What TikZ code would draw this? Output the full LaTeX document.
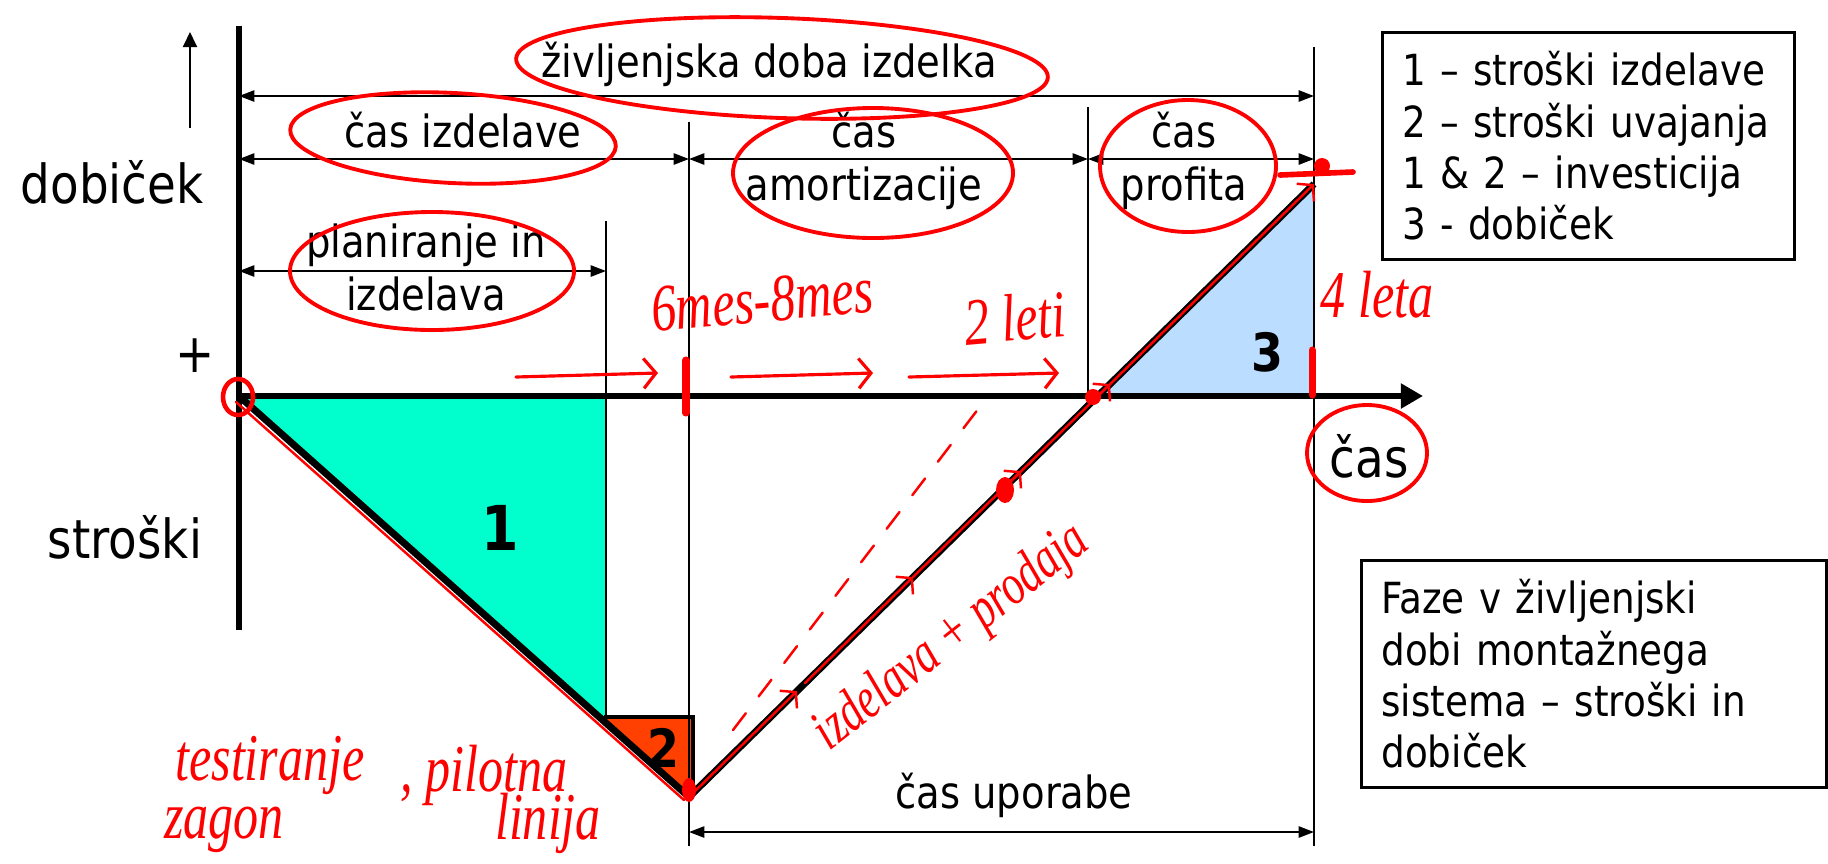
\documentclass[tikz,border=0pt]{standalone}
\usepackage{fontspec}
\setmainfont{DejaVu Sans}[FakeStretch=0.87]
\newfontfamily\handfont{Liberation Serif}[FakeStretch=0.75]
\usetikzlibrary{arrows.meta}
\definecolor{tone}{RGB}{0,255,204}
\definecolor{ttwo}{RGB}{255,64,0}
\definecolor{tthree}{RGB}{187,221,255}

\begin{document}
\begin{tikzpicture}[x=.01cm,y=-.01cm,
  ax/.style={line width=1.8pt},
  hair/.style={line width=.6pt},
  dim/.style={hair,{Triangle[length=4.4pt,width=3.2pt]}-{Triangle[length=4.4pt,width=3.2pt]}},
  lbl/.style={font=\fontsize{12.6}{14.8}\selectfont,align=center,anchor=base,inner sep=0},
  big/.style={font=\fontsize{15.3}{18}\selectfont,inner sep=0},
  num/.style={font=\bfseries\fontsize{15}{15}\selectfont,inner sep=0},
  box/.style={draw,line width=.8pt,anchor=north west,align=left,minimum height=22.7mm,font=\fontsize{12.2}{14.6}\selectfont},
  redln/.style={red,line width=.9pt,line cap=round},
  hand/.style={red,inner sep=0,font=\handfont\itshape\fontsize{19}{20}\selectfont}]
\useasboundingbox (0,0) rectangle (1828,863);
% key points of the curve
\coordinate (O) at (239,396);\coordinate (P) at (606,396);\coordinate (I) at (689,396);
\coordinate (A) at (1088,396);\coordinate (E) at (1314,396);\coordinate (C) at (1096,396);
\coordinate (K) at (606,722);\coordinate (V) at (689,797);\coordinate (T) at (1314,184);
\coordinate (X) at (1423,396);
% areas
\fill[tone] (O)--(P)--(K)--cycle;
\fill[ttwo] (606,717)--(693,717)--(693,797)--(V)--(K)--cycle;
\fill[tthree] (C)--(E)--(T)--cycle;
\draw[line width=1.4pt] (604,717)--(693,717)--(693,793);
% guides and spans
\foreach \x/\t/\b in {606/221/717,689/122/846,1088/107/396,1314/47/846}
  \draw[hair] (\x,\t)--(\x,\b);
\foreach \a/\b/\y in {O/E/96,O/I/159,I/A/159,A/E/159,O/P/271,I/E/832}
  \draw[dim] (\a |- 0,\y)--(\b |- 0,\y);
% axes and curve
\draw[ax] (239,26)--(239,630);
\draw[ax,-{Triangle[length=6.3pt,width=6.8pt]}] (O)--(X);
\draw[hair,-{Triangle[length=4.3pt,width=4pt]}] (190,128)--(190,32);
\draw[line width=2pt] (O)--(V)--(T);
% texts
\node[big,anchor=base] (dob) at (112,203) {dobiček};
\node[big,anchor=base] (str) at (125,558) {stroški};
\node[big] (plus) at (195,356) {+};
\node[big,anchor=base] (cas) at (1369,477) {čas};
\node[lbl] (life) at (769,77) {življenjska doba izdelka};
\node[lbl] (izd) at (463,147) {čas izdelave};
\node[lbl] (amo) at (864,200) {čas\\amortizacije};
\node[lbl] (pro) at (1184,200) {čas\\profita};
\node[lbl] (pla) at (426,310) {planiranje in\\izdelava};
\node[lbl] (upo) at (1014,808) {čas uporabe};
\node[num,font=\bfseries\fontsize{17.6}{18}\selectfont] (n1) at (500,528) {1};
\node[num] (n2) at (663,748) {2};
\node[num] (n3) at (1267,352) {3};
\node[box,text width=37.2mm,inner xsep=2mm] (leg) at (1381,31)
  {1 – stroški izdelave\\2 – stroški uvajanja\\1 \& 2 – investicija\\3 - dobiček};
\node[box,text width=42.5mm,inner xsep=2mm] (cap) at (1360,559)
  {Faze v življenjski\\dobi montažnega\\sistema – stroški in\\dobiček};
% red pen marks
\foreach \x/\y/\rx/\ry/\r in {782/68/266/50/-2,453/138/163/45/-3,432/271/142/59/0,
  873/173/140/65/0,1188/166/88/66/0,1367/453/60/48/0}
  \draw[redln,line width=1.1pt,rotate around={\r:(\x,\y)}] (\x,\y) ellipse [x radius=\rx,y radius=\ry];
\draw[redln,line width=1.3pt] (238,397) ellipse [x radius=15,y radius=18];
\fill[red] (1093,397) circle (8);\fill[red] (1005,490) ellipse [x radius=9,y radius=13];
\fill[red] (689,790) ellipse [x radius=7,y radius=12];\fill[red] (1322,166) circle (8);
\draw[redln,line width=1.6pt] (1280,175)--(1353,172);
\draw[redln,line width=2pt] (686,360)--(686,413);\draw[redln,line width=2pt] (1312,350)--(1312,395);
\foreach \a/\b in {516/658,731/873,909/1059}
  \draw[redln,-{Straight Barb[length=3.5pt,width=8.5pt]}] (\a,377)--(\b,373);
\draw[redln,line width=.7pt,dash pattern=on 6pt off 6pt] (733,730)--(985,400);
\draw[redln,line width=.7pt] (236,402)--(684,800);
\foreach \a/\b in {689/797,805/683,913/577,1002/490}
  \draw[redln,line width=.7pt,-{Straight Barb[length=3pt,width=7pt]}] (\a,\b)--++(108,-106);
\draw[redln,line width=.7pt,-{Straight Barb[length=3pt,width=7pt]}] (1097,397)--(T);
\node[hand,rotate=5] (h1) at (762,300) {6mes-8mes};
\node[hand,rotate=5] (h2) at (1015,318) {2 leti};
\node[hand] (h3) at (1377,295) {4 leta};
\node[hand,rotate=38,font=\handfont\itshape\fontsize{16.5}{18}\selectfont] (h4) at (952,638) {izdelava + prodaja};
\node[hand] (h5) at (270,765) {testiranje};
\node[hand] (h6) at (224,830) {zagon};
\node[hand] (h7) at (484,775) {, pilotna};
\node[hand] (h8) at (548,823) {linija};
\end{tikzpicture}
\end{document}
